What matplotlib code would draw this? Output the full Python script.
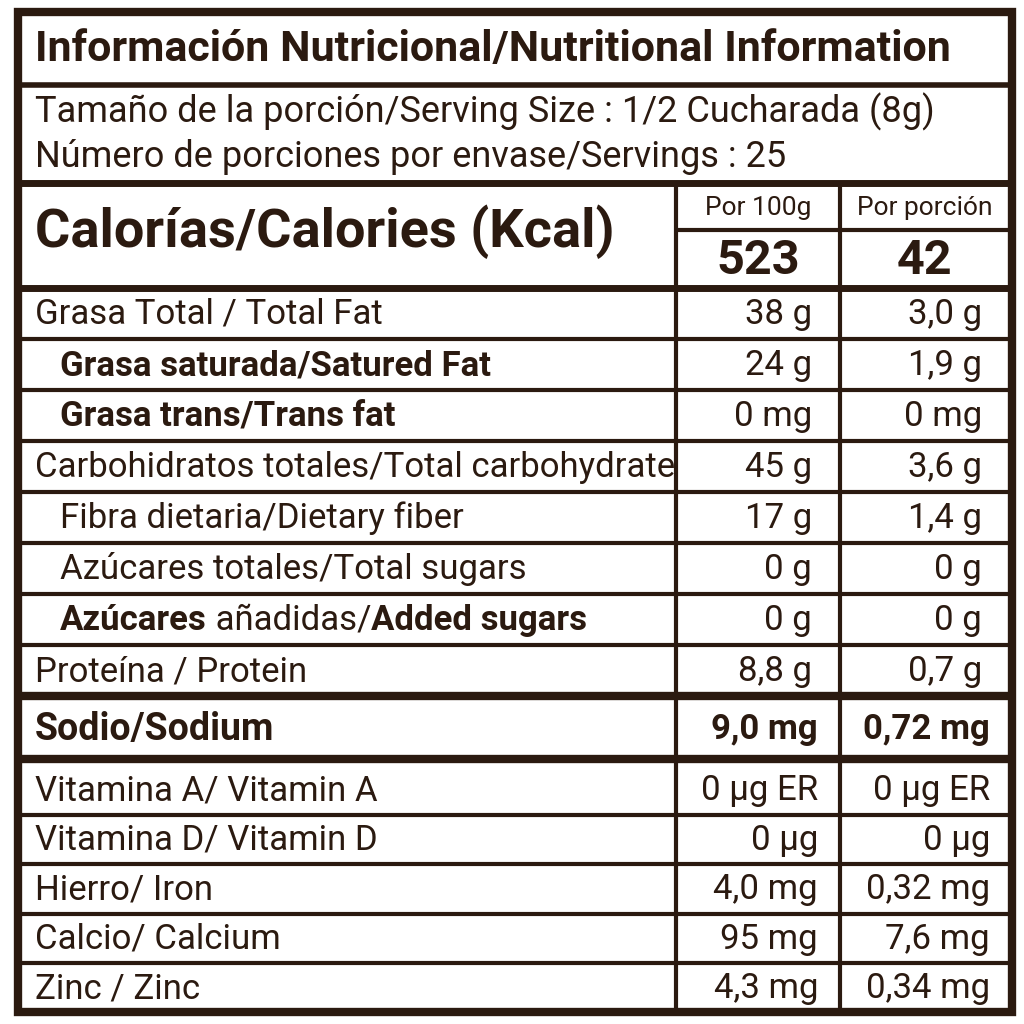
import matplotlib
matplotlib.use("Agg")
import matplotlib.pyplot as plt
from matplotlib.lines import Line2D

INK = "#2b1a10"
FONT = ["Roboto", "DejaVu Sans"]

title = "Información Nutricional/Nutritional Information"
serving_lines = ["Tamaño de la porción/Serving Size : 1/2 Cucharada (8g)",
                 "Número de porciones por envase/Servings : 25"]
calories_label = "Calorías/Calories (Kcal)"
col_headers = ["Por 100g", "Por porción"]
calories = ["523", "42"]

# each label is a list of (text, bold) parts
nutrient_labels = [
    [("Grasa Total / Total Fat", False)],
    [("Grasa saturada/Satured Fat", True)],
    [("Grasa trans/Trans fat", True)],
    [("Carbohidratos totales/Total carbohydrate", False)],
    [("Fibra dietaria/Dietary fiber", False)],
    [("Azúcares totales/Total sugars", False)],
    [("Azúcares", True), (" añadidas/", False), ("Added sugars", True)],
    [("Proteína / Protein", False)],
]
nutrient_indent = [False, True, True, False, True, True, True, False]
per100 = ["38 g", "24 g", "0 mg", "45 g", "17 g", "0 g", "0 g", "8,8 g"]
perserv = ["3,0 g", "1,9 g", "0 mg", "3,6 g", "1,4 g", "0 g", "0 g", "0,7 g"]

sodium = ["Sodio/Sodium", "9,0 mg", "0,72 mg"]

micro_labels = ["Vitamina A/ Vitamin A", "Vitamina D/ Vitamin D", "Hierro/ Iron",
                "Calcio/ Calcium", "Zinc / Zinc"]
micro100 = ["0 µg ER", "0 µg", "4,0 mg", "95 mg", "4,3 mg"]
microserv = ["0 µg ER", "0 µg", "0,32 mg", "7,6 mg", "0,34 mg"]

fig = plt.figure(figsize=(10.24, 10.24), dpi=100)
ax = fig.add_axes([0, 0, 1, 1])
ax.set_xlim(0, 1024)
ax.set_ylim(1024, 0)
ax.axis("off")


def hline(y, x0=18, x1=1012, lw=3):
    ax.add_line(Line2D([x0, x1], [y, y], color=INK, lw=lw, solid_capstyle="butt"))


def vline(x, y0, y1, lw=3):
    ax.add_line(Line2D([x, x], [y0, y1], color=INK, lw=lw, solid_capstyle="butt"))


def txt(x, y, s, size=25, bold=False, ha="left"):
    return ax.text(x, y, s, fontsize=size, fontweight="bold" if bold else "normal",
                   ha=ha, va="center", color=INK, family=FONT)


# frame
ax.add_patch(plt.Rectangle((18, 12), 994, 1000, fill=False, ec=INK, lw=6))
txt(35, 50, title, size=31, bold=True)
hline(85, lw=4)
txt(35, 112, serving_lines[0], size=26)
txt(35, 157, serving_lines[1], size=26)
hline(183, lw=5)

c1, c2 = 676, 840
vline(c1, 183, 1012)
vline(c2, 183, 1012)
txt(35, 232, calories_label, size=39, bold=True)
txt(758, 208, col_headers[0], size=19, ha="center")
txt(925, 208, col_headers[1], size=19, ha="center")
hline(230, c1, 1012, lw=3)
txt(758, 261, calories[0], size=35, bold=True, ha="center")
txt(925, 261, calories[1], size=35, bold=True, ha="center")
hline(288, lw=5)

fig.canvas.draw()
renderer = fig.canvas.get_renderer()
inv = ax.transData.inverted()

row_h = 51
y = 288
for parts, indent, a, b in zip(nutrient_labels, nutrient_indent, per100, perserv):
    yc = y + row_h / 2 + 1
    x = 60 if indent else 35
    for s, bold in parts:
        t = txt(x, yc, s, bold=bold)
        bb = t.get_window_extent(renderer)
        x = inv.transform((bb.x1, bb.y0))[0]
    txt(812, yc, a, ha="right")
    txt(982, yc, b, ha="right")
    y += row_h
    if y < 690:
        hline(y)

hline(696, lw=6)
txt(35, 729, sodium[0], size=27, bold=True)
txt(818, 729, sodium[1], size=25, bold=True, ha="right")
txt(990, 729, sodium[2], size=25, bold=True, ha="right")
hline(759, lw=6)

y = 765
micro_h = 49.5
for i, (lab, a, b) in enumerate(zip(micro_labels, micro100, microserv)):
    yc = y + micro_h / 2 + 1
    txt(35, yc, lab)
    txt(818, yc, a, ha="right")
    txt(990, yc, b, ha="right")
    y += micro_h
    if i < len(micro_labels) - 1:
        hline(y)

fig.savefig("out.png", dpi=100, facecolor="white")
